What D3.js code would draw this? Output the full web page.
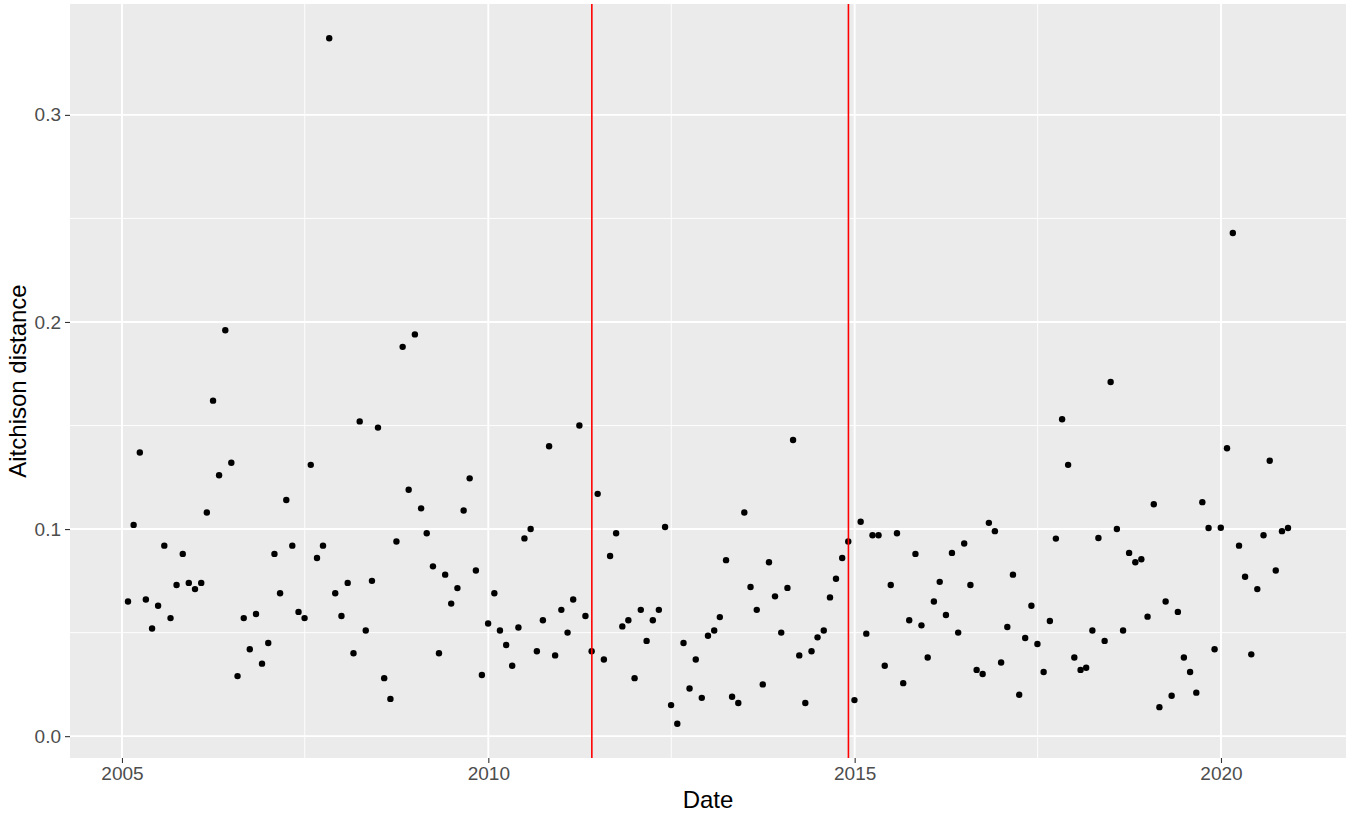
<!DOCTYPE html>
<html>
<head>
<meta charset="utf-8">
<script src="https://cdn.jsdelivr.net/npm/d3@7"></script>
<style>
  html, body { margin: 0; padding: 0; background: #fff; }
  #container { width: 1355px; height: 816px; }
  text { font-family: "Liberation Sans", Arial, sans-serif; }
</style>
</head>
<body>
<div id="container"></div>
<script>
// monthly values, Jan 2005 .. Nov 2020 (one row per year)
const values = [
  0.065, 0.102, 0.137, 0.066, 0.052, 0.063, 0.092, 0.057, 0.073, 0.088, 0.074, 0.071,
  0.074, 0.108, 0.162, 0.126, 0.196, 0.132, 0.029, 0.057, 0.042, 0.059, 0.035, 0.045,
  0.088, 0.069, 0.114, 0.092, 0.060, 0.057, 0.131, 0.086, 0.092, 0.337, 0.069, 0.058,
  0.074, 0.040, 0.152, 0.051, 0.075, 0.149, 0.028, 0.018, 0.094, 0.188, 0.119, 0.194,
  0.110, 0.098, 0.082, 0.040, 0.078, 0.064, 0.0715, 0.109, 0.1245, 0.080, 0.0295, 0.0544,
  0.069, 0.051, 0.044, 0.034, 0.0525, 0.0955, 0.100, 0.041, 0.056, 0.140, 0.039, 0.061,
  0.050, 0.066, 0.150, 0.058, 0.041, 0.117, 0.037, 0.087, 0.098, 0.053, 0.056, 0.028,
  0.061, 0.046, 0.056, 0.061, 0.101, 0.015, 0.006, 0.045, 0.023, 0.037, 0.0185, 0.0485,
  0.051, 0.0575, 0.085, 0.019, 0.016, 0.108, 0.072, 0.061, 0.025, 0.084, 0.0675, 0.050,
  0.0716, 0.143, 0.039, 0.016, 0.041, 0.0477, 0.051, 0.067, 0.076, 0.086, 0.094, 0.0174,
  0.1035, 0.0495, 0.097, 0.097, 0.034, 0.073, 0.098, 0.0256, 0.056, 0.088, 0.0535, 0.038,
  0.065, 0.0745, 0.0585, 0.0885, 0.050, 0.093, 0.073, 0.032, 0.030, 0.103, 0.099, 0.0356,
  0.0527, 0.078, 0.020, 0.0474, 0.063, 0.0445, 0.031, 0.0556, 0.0954, 0.153, 0.131, 0.038,
  0.032, 0.033, 0.051, 0.0957, 0.046, 0.171, 0.100, 0.051, 0.0885, 0.084, 0.0854, 0.0577,
  0.112, 0.014, 0.065, 0.0195, 0.060, 0.038, 0.031, 0.021, 0.113, 0.1005, 0.042, 0.1006,
  0.139, 0.243, 0.092, 0.077, 0.0395, 0.071, 0.097, 0.133, 0.080, 0.099, 0.1005
];
const startYear = 2005;

const breakDates = ["2011-06-01", "2014-12-01"];
const xMajorYears = [2005, 2010, 2015, 2020];
const xMinorYears = [2007.5, 2012.5, 2017.5];
const yMajor = [0, 0.1, 0.2, 0.3];
const yMinor = [0.05, 0.15, 0.25];

// dates are month ends
const data = values.map((v, i) => ({date: new Date(startYear, i + 1, 0), value: v}));
const yearToDate = y => {
  const yr = Math.floor(y);
  return new Date(yr, Math.round((y - yr) * 12), 1);
};

const panel = {left: 70, right: 1346, top: 4, bottom: 758};

const svg = d3.select("#container")
  .append("svg")
  .attr("width", 1355)
  .attr("height", 816);

// ggplot style 5% expansion
const xExt = d3.extent(data, d => +d.date);
const xPad = (xExt[1] - xExt[0]) * 0.05;
const x = d3.scaleTime()
  .domain([new Date(xExt[0] - xPad), new Date(xExt[1] + xPad)])
  .range([panel.left, panel.right]);

const yExt = d3.extent(data, d => d.value);
const yPad = (yExt[1] - yExt[0]) * 0.05;
const y = d3.scaleLinear()
  .domain([yExt[0] - yPad, yExt[1] + yPad])
  .range([panel.bottom, panel.top]);

svg.append("rect")
  .attr("x", panel.left)
  .attr("y", panel.top)
  .attr("width", panel.right - panel.left)
  .attr("height", panel.bottom - panel.top)
  .attr("fill", "#EBEBEB");

const grid = svg.append("g");

grid.selectAll(".ymin").data(yMinor).join("line")
  .attr("x1", panel.left).attr("x2", panel.right)
  .attr("y1", d => y(d)).attr("y2", d => y(d))
  .attr("stroke", "#fff").attr("stroke-width", 0.9);

grid.selectAll(".xmin").data(xMinorYears).join("line")
  .attr("y1", panel.top).attr("y2", panel.bottom)
  .attr("x1", d => x(yearToDate(d))).attr("x2", d => x(yearToDate(d)))
  .attr("stroke", "#fff").attr("stroke-width", 0.9);

grid.selectAll(".ymaj").data(yMajor).join("line")
  .attr("x1", panel.left).attr("x2", panel.right)
  .attr("y1", d => y(d)).attr("y2", d => y(d))
  .attr("stroke", "#fff").attr("stroke-width", 1.9);

grid.selectAll(".xmaj").data(xMajorYears).join("line")
  .attr("y1", panel.top).attr("y2", panel.bottom)
  .attr("x1", d => x(yearToDate(d))).attr("x2", d => x(yearToDate(d)))
  .attr("stroke", "#fff").attr("stroke-width", 1.9);

// points
svg.append("g")
  .selectAll("circle")
  .data(data)
  .join("circle")
  .attr("cx", d => x(d.date))
  .attr("cy", d => y(d.value))
  .attr("r", 3.2)
  .attr("fill", "#000");

// vertical break lines
svg.append("g")
  .selectAll("line")
  .data(breakDates.map(d => new Date(d)))
  .join("line")
  .attr("x1", d => x(d)).attr("x2", d => x(d))
  .attr("y1", panel.top).attr("y2", panel.bottom)
  .attr("stroke", "#FF0000")
  .attr("stroke-width", 1.6);

// axes
const xAxis = svg.append("g")
  .attr("transform", `translate(0,${panel.bottom})`)
  .call(d3.axisBottom(x)
    .tickValues(xMajorYears.map(yearToDate))
    .tickFormat(d3.timeFormat("%Y"))
    .tickSize(5)
    .tickPadding(4));

const yAxis = svg.append("g")
  .attr("transform", `translate(${panel.left},0)`)
  .call(d3.axisLeft(y)
    .tickValues(yMajor)
    .tickFormat(d3.format(".1f"))
    .tickSize(5)
    .tickPadding(4));

[xAxis, yAxis].forEach(ax => {
  ax.select(".domain").remove();
  ax.selectAll(".tick line").attr("stroke", "#333333").attr("stroke-width", 1.1);
  ax.selectAll(".tick text")
    .attr("fill", "#4D4D4D")
    .style("font-size", "19px")
    .style("font-family", "Liberation Sans, Arial, sans-serif");
});

svg.append("text")
  .attr("x", (panel.left + panel.right) / 2)
  .attr("y", 808)
  .attr("text-anchor", "middle")
  .style("font-size", "24px")
  .attr("fill", "#000")
  .text("Date");

svg.append("text")
  .attr("transform", `translate(26,${(panel.top + panel.bottom) / 2}) rotate(-90)`)
  .attr("text-anchor", "middle")
  .style("font-size", "24px")
  .attr("fill", "#000")
  .text("Aitchison distance");
</script>
</body>
</html>
